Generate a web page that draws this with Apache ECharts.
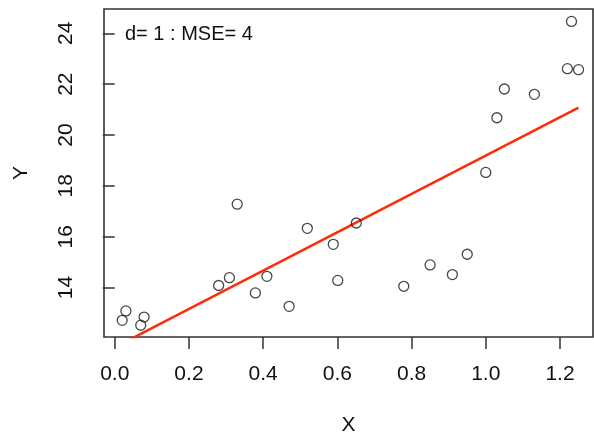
<!DOCTYPE html>
<html><head><meta charset="utf-8">
<script src="https://cdn.jsdelivr.net/npm/echarts@6/dist/echarts.min.js"></script>
<style>html,body{margin:0;padding:0;background:#fff}#c{width:594px;height:435px}</style>
</head><body><div id="c"></div>
<script>
var pointsX = [0.020,0.030,0.070,0.079,0.280,0.309,0.330,0.379,0.410,0.470,0.519,0.589,0.601,0.651,0.779,0.850,0.910,0.950,1.000,1.030,1.050,1.131,1.220,1.231,1.250];
var pointsY = [12.71,13.08,12.52,12.84,14.08,14.39,17.28,13.79,14.44,13.26,16.33,15.70,14.28,16.54,14.05,14.89,14.51,15.31,18.53,20.68,21.81,21.60,22.61,24.47,22.57];
var fitX = [0.020, 1.250];
var fitY = [11.80, 21.08];
var xTicks = [0.0,0.2,0.4,0.6,0.8,1.0,1.2];
var yTicks = [14,16,18,20,22,24];
var titleText = 'd= 1 : MSE= 4';

var FONT = '"Liberation Sans", Arial, Helvetica, sans-serif';
var chart = echarts.init(document.getElementById('c'), null, {renderer:'canvas'});
chart.setOption({
  animation:false,
  backgroundColor:'#fff',
  title:{text:titleText,left:120,top:19,textStyle:{fontFamily:FONT,fontSize:20,fontWeight:'normal',color:'#111'}},
  grid:{left:104,right:1,top:9,bottom:98,show:true,borderColor:'#333',borderWidth:1.6,backgroundColor:'transparent',
    containLabel:false,outerBoundsMode:'none'},
  xAxis:{type:'value',min:-0.029,max:1.289,
    name:'X',nameLocation:'middle',nameGap:78,nameTextStyle:{fontFamily:FONT,fontSize:21,color:'#111'},
    axisLine:{show:false},splitLine:{show:false},
    axisTick:{show:true,length:12,customValues:xTicks,lineStyle:{color:'#333',width:1.5}},
    axisLabel:{customValues:xTicks,margin:27,fontFamily:FONT,fontSize:21,color:'#111',
      formatter:function(v){return v.toFixed(1);}}
  },
  yAxis:{type:'value',min:12.055,max:24.957,
    name:'Y',nameLocation:'middle',nameGap:72,nameRotate:90,nameTextStyle:{fontFamily:FONT,fontSize:21,color:'#111'},
    axisLine:{show:false},splitLine:{show:false},
    axisTick:{show:true,length:12,customValues:yTicks,lineStyle:{color:'#333',width:1.5}},
    axisLabel:{customValues:yTicks,rotate:90,margin:27,fontFamily:FONT,fontSize:21,color:'#111'}
  },
  series:[
    {type:'scatter',data:pointsX.map(function(x,i){return [x,pointsY[i]];}),symbol:'circle',symbolSize:10,
      itemStyle:{color:'rgba(0,0,0,0)',borderColor:'#1a1a1a',borderWidth:1.3},z:3},
    {type:'line',data:fitX.map(function(x,i){return [x,fitY[i]];}),showSymbol:false,clip:true,
      lineStyle:{color:'#ff2a0a',width:2.5},z:2}
  ]
});
</script></body></html>
